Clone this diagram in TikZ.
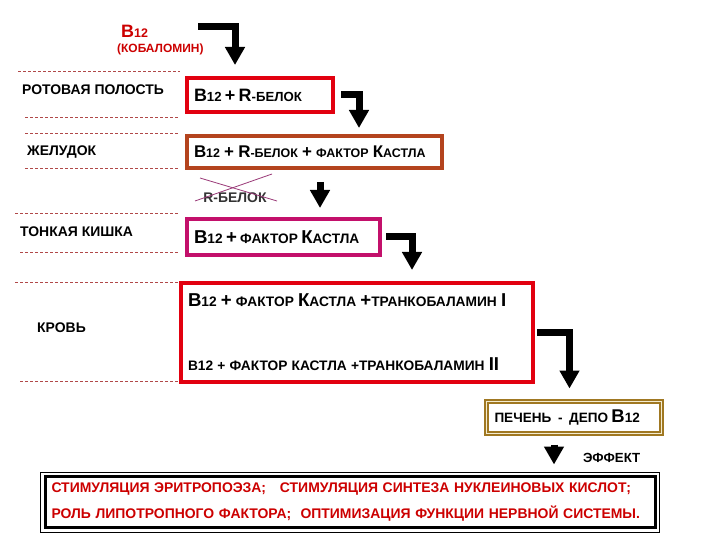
\documentclass[tikz,border=0pt]{standalone}
\usepackage{fontspec}
\setmainfont{Liberation Sans}
\usepackage{xcolor}
\usepackage{tikz}
\usetikzlibrary{arrows.meta,positioning}
\definecolor{bred}{HTML}{E2000F}
\definecolor{dred}{HTML}{CC0000}
\definecolor{sienna}{HTML}{B4441E}
\definecolor{magent}{HTML}{C3106B}
\definecolor{gold}{HTML}{A07822}
\definecolor{cream}{HTML}{F4ECD0}
\definecolor{sepcol}{HTML}{B04848}
\definecolor{crosscol}{HTML}{9A3A78}
\def\bigsz{17}
\def\smsz{12.5}
\newcommand\bigch[1]{{\fontsize{\bigsz}{\bigsz}\selectfont #1}}
\newcommand\smch[1]{{\fontsize{\smsz}{\smsz}\selectfont #1}}
\tikzset{
  stagebox/.style={draw=#1, line width=4bp, fill=white, anchor=north west, inner xsep=7bp, inner ysep=0pt, align=left, font=\bfseries\fontsize{12.5}{15}\selectfont},
  zone/.style={anchor=west, inner sep=0pt, font=\bfseries\fontsize{14}{14}\selectfont},
  sepline/.style={draw=sepcol, line width=0.8bp, dash pattern=on 3bp off 2bp},
  arr/.style={-{Triangle[length=18bp,width=19bp]}, line width=7bp, draw=black},
  strike/.style={draw=crosscol, line width=0.8bp}
}
\begin{document}
\begin{tikzpicture}[x=1bp,y=-1bp]
  \useasboundingbox (0,0) rectangle (720,540);
  \fill[white] (0,0) rectangle (720,540);

  \foreach \y/\xa in {71/18,117/25,133/25,168/25,213/15,252/20,282/15,381/20}
    \draw[sepline] (\xa,\y) -- (180,\y);

  \node[anchor=base west, inner sep=0pt, text=dred, font=\bfseries] (Btitle) at (121,38)
    {\fontsize{18}{18}\selectfont B\fontsize{12.5}{12.5}\selectfont 12};
  \node[anchor=base west, inner sep=0pt, text=dred, font=\bfseries\fontsize{12}{12}\selectfont] (kobal) at (117,53) {(КОБАЛОМИН)};

  \node[zone] (Lrot) at (22,90) {РОТОВАЯ ПОЛОСТЬ};
  \node[zone] (Lzhel) at (27,152) {ЖЕЛУДОК};
  \node[zone] (Ltonk) at (20,232) {ТОНКАЯ КИШКА};
  \node[zone] (Lkrov) at (37,328) {КРОВЬ};

  \node[stagebox=bred, text width=132bp, minimum height=34bp, font=\bfseries\def\bigsz{18}\def\smsz{13.25}] (s1) at (185,76)
    {\bigch{B}\smch{12}\bigch{ + R}\smch{-БЕЛОК}};
  \node[stagebox=sienna, text width=241bp, minimum height=32bp] (s2) at (185,134)
    {\bigch{B}\smch{12}\bigch{ + R}\smch{-БЕЛОК}\bigch{ + }\smch{ФАКТОР }\bigch{К}\smch{АСТЛА}};
  \node[stagebox=magent, text width=179bp, minimum height=36bp, font=\bfseries\def\bigsz{18.7}\def\smsz{13.75}] (s3) at (185,217)
    {\bigch{B}\smch{12}\bigch{ + }\smch{ФАКТОР }\bigch{К}\smch{АСТЛА}};
  \node[stagebox=bred, text width=338bp, minimum height=99bp, font=\bfseries\fontsize{12.5}{15}\selectfont\def\bigsz{18.7}\def\smsz{13.8}] (s4) at (179,281)
    {\bigch{B}\smch{12}\bigch{ + }\smch{ФАКТОР }\bigch{К}\smch{АСТЛА }\bigch{+}\smch{ТРАНКОБАЛАМИН }\bigch{I}\\[49bp]
     \smch{B12 + ФАКТОР КАСТЛА +ТРАНКОБАЛАМИН }\bigch{II}};
  \node[stagebox=gold, line width=2bp, double=cream, double distance=1.2bp, inner xsep=8bp,
        text width=159bp, minimum height=32bp, font=\bfseries\def\bigsz{18.5}\def\smsz{13.6}] (s5) at (485.5,400.5)
    {\smch{ПЕЧЕНЬ \ - \ ДЕПО }\bigch{B}\smch{12}};

  \node[anchor=center, inner sep=0pt, text=black!80, font=\bfseries\fontsize{14}{14}\selectfont] (rbel) at (235,198) {R-БЕЛОК};
  \draw[strike] (rbel.center) ++(-35,-20) -- ++(77,23);
  \draw[strike] (rbel.center) ++(-40,3) -- ++(77,-27);

  \node[anchor=west, inner sep=0pt, font=\bfseries\fontsize{13.3}{13.3}\selectfont] (eff) at (583,458) {ЭФФЕКТ};

  \node[stagebox=black, line width=3bp, inner xsep=6.5bp, text width=597bp, minimum height=51bp,
        text=dred, font=\bfseries\fontsize{14}{26}\selectfont] (res) at (43.5,475)
    {СТИМУЛЯЦИЯ ЭРИТРОПОЭЗА;\ \ \ СТИМУЛЯЦИЯ СИНТЕЗА НУКЛЕИНОВЫХ КИСЛОТ;\\
     РОЛЬ ЛИПОТРОПНОГО ФАКТОРА;\ \ ОПТИМИЗАЦИЯ ФУНКЦИИ НЕРВНОЙ СИСТЕМЫ.};
  \draw[line width=0.8bp] ([xshift=-3bp,yshift=3bp]res.north west) rectangle ([xshift=3bp,yshift=-3bp]res.south east);

  \coordinate (Bstart) at (198,27);
  \draw[arr] (Bstart) -| ([xshift=50bp,yshift=11bp]s1.north west);
  \draw[arr] ([xshift=6bp]s1.east) -| ([xshift=174bp,yshift=6bp]s2.north west);
  \draw[arr] ([xshift=135bp,yshift=-12bp]s2.south west) -- ([xshift=135bp,yshift=9bp]s3.north west);
  \draw[arr] ([xshift=4bp]s3.east) -| ([xshift=233bp,yshift=11bp]s4.north west);
  \draw[arr] ([xshift=2bp]s4.east) -| ([xshift=84bp,yshift=12bp]s5.north west);
  \draw[arr] ([xshift=-20bp,yshift=-10bp]s5.south) -- ([xshift=-20bp,yshift=-30bp]s5.south);
\end{tikzpicture}
\end{document}
